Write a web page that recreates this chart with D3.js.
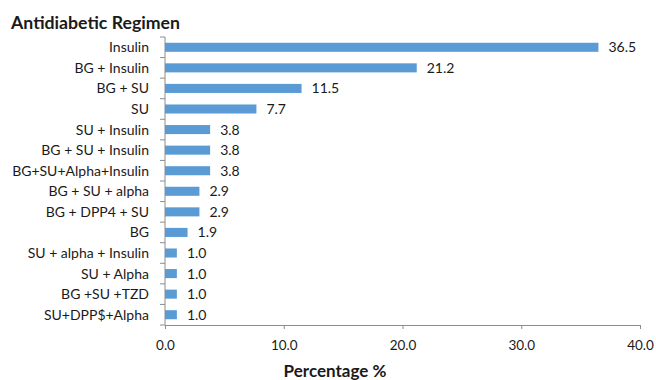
<!DOCTYPE html>
<html>
<head>
<meta charset="utf-8">
<script src="https://cdn.jsdelivr.net/npm/d3@7"></script>
<style>
  html, body { margin: 0; padding: 0; background: #fff; }
  svg { display: block; font-family: Lato, "Open Sans", sans-serif; }
</style>
</head>
<body>
<svg id="chart" width="656" height="380"></svg>
<script>
// Regimens, top to bottom
const regimens = [
  "Insulin", "BG + Insulin", "BG + SU", "SU", "SU + Insulin", "BG + SU + Insulin",
  "BG+SU+Alpha+Insulin", "BG + SU + alpha", "BG + DPP4 + SU", "BG",
  "SU + alpha + Insulin", "SU + Alpha", "BG +SU +TZD", "SU+DPP$+Alpha"
];
// Share of patients (%)
const percentages = [36.5, 21.2, 11.5, 7.7, 3.8, 3.8, 3.8, 2.9, 2.9, 1.9, 1.0, 1.0, 1.0, 1.0];
const xTicks = [0, 10, 20, 30, 40];

const svg = d3.select("#chart");
const margin = { left: 165, top: 37, bottom: 325, right: 640 };
const axisColor = "#8c8c8c";
const barColor = "#5b9bd5";
const textColor = "#1a1a1a";

const x = d3.scaleLinear().domain([0, 40]).range([margin.left, margin.right]);
const y = d3.scaleBand().domain(regimens).range([margin.top, margin.bottom]).paddingInner(0.56).paddingOuter(0.28);

// Title
svg.append("text")
  .attr("x", 11).attr("y", 29)
  .attr("font-size", 16.5).attr("font-weight", "bold").attr("fill", textColor)
  .attr("textLength", 169).attr("lengthAdjust", "spacingAndGlyphs")
  .text("Antidiabetic Regimen");

// Bars
svg.append("g").selectAll("rect")
  .data(regimens)
  .join("rect")
  .attr("x", x(0))
  .attr("y", (d) => y(d))
  .attr("width", (d, i) => x(percentages[i]) - x(0))
  .attr("height", y.bandwidth())
  .attr("fill", barColor);

// Value labels
svg.append("g").selectAll("text")
  .data(regimens)
  .join("text")
  .attr("x", (d, i) => x(percentages[i]) + 10)
  .attr("y", (d) => y(d) + y.bandwidth() / 2)
  .attr("dy", "0.36em")
  .attr("font-size", 14).attr("fill", textColor)
  .text((d, i) => percentages[i].toFixed(1));

// Y axis: line plus tick marks at category boundaries
const yAxis = svg.append("g");
yAxis.append("line")
  .attr("x1", x(0)).attr("x2", x(0))
  .attr("y1", margin.top).attr("y2", margin.bottom)
  .attr("stroke", axisColor);
const boundaries = d3.range(regimens.length + 1)
  .map((i) => margin.top + i * (margin.bottom - margin.top) / regimens.length);
yAxis.selectAll("line.tick")
  .data(boundaries)
  .join("line")
  .attr("class", "tick")
  .attr("x1", x(0) - 5).attr("x2", x(0))
  .attr("y1", (d) => d).attr("y2", (d) => d)
  .attr("stroke", axisColor);
yAxis.selectAll("text")
  .data(regimens)
  .join("text")
  .attr("x", 149)
  .attr("y", (d) => y(d) + y.bandwidth() / 2)
  .attr("dy", "0.36em")
  .attr("text-anchor", "end")
  .attr("font-size", 14).attr("fill", textColor)
  .text((d) => d);

// X axis
const xAxis = svg.append("g").attr("transform", `translate(0,${margin.bottom})`)
  .call(d3.axisBottom(x).tickValues(xTicks).tickFormat(d3.format(".1f")).tickSize(4).tickPadding(11));
xAxis.select(".domain").attr("stroke", axisColor);
xAxis.selectAll(".tick line").attr("stroke", axisColor);
xAxis.selectAll(".tick text")
  .attr("font-size", 13.5).attr("fill", textColor)
  .attr("font-family", "Lato, 'Open Sans', sans-serif");

svg.append("text")
  .attr("x", 335).attr("y", 377)
  .attr("text-anchor", "middle")
  .attr("font-size", 17).attr("font-weight", "bold").attr("fill", textColor)
  .text("Percentage %");
</script>
</body>
</html>
